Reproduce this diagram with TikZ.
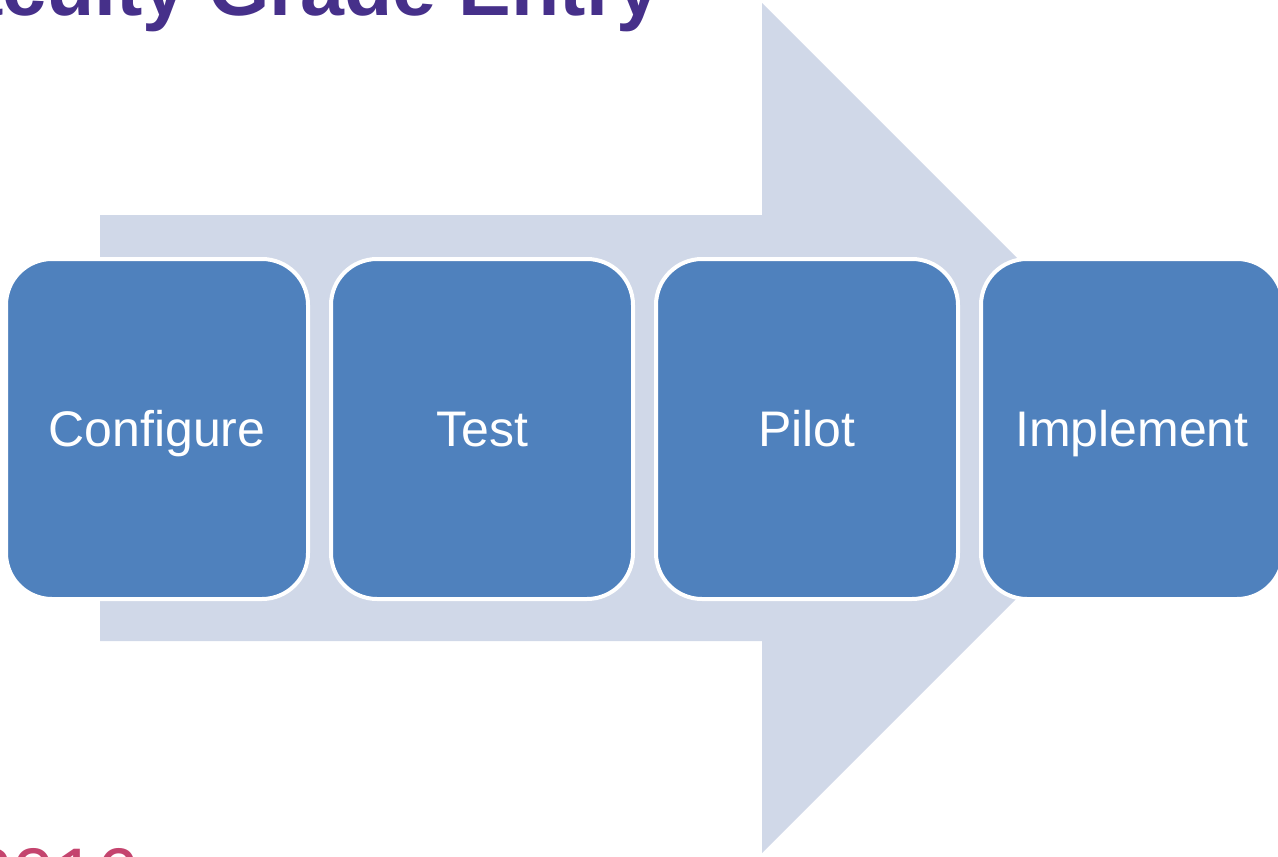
\documentclass[tikz,border=0pt]{standalone}
\usepackage{fontspec}
\setmainfont{Liberation Sans}
\definecolor{arrowbg}{HTML}{D0D8E8}
\definecolor{boxblue}{HTML}{4F81BD}
\definecolor{titlepurple}{HTML}{46308A}
\definecolor{yearred}{HTML}{C4446E}
\tikzset{
  stepbox/.style={fill=boxblue, draw=white, line width=4pt, rounded corners=46pt},
  steplabel/.style={text=white, inner sep=0pt, anchor=base, font=\fontsize{50}{56}\selectfont},
}
\begin{document}
\begin{tikzpicture}[x=1pt,y=-1pt]
\useasboundingbox (0,0) rectangle (1278,857);
\clip (0,0) rectangle (1278,857);
% big background arrow
\fill[arrowbg] (100,215) -- (762,215) -- (762,3) -- (1187,428) -- (762,853) -- (762,641) -- (100,641) -- cycle;
% title (cut off)
\node[text=titlepurple, inner sep=0pt, anchor=base east, font=\fontsize{79}{84}\selectfont\bfseries] (title) at (661,15) {Faculty Grade Entry};
% year (cut off)
\node[text=yearred, inner sep=0pt, anchor=base west, font=\fontsize{76}{80}\selectfont] (year) at (-30,901) {2016};
% step boxes
\foreach \i/\name/\txt in {0/configure/Configure,1/test/Test,2/pilot/Pilot,3/implement/Implement}{
  \path[stepbox] ({6+325*\i},259) rectangle ({308+325*\i},599);
  \node[steplabel] (\name) at ({157+325*\i},446) {\txt};
}
\end{tikzpicture}
\end{document}
